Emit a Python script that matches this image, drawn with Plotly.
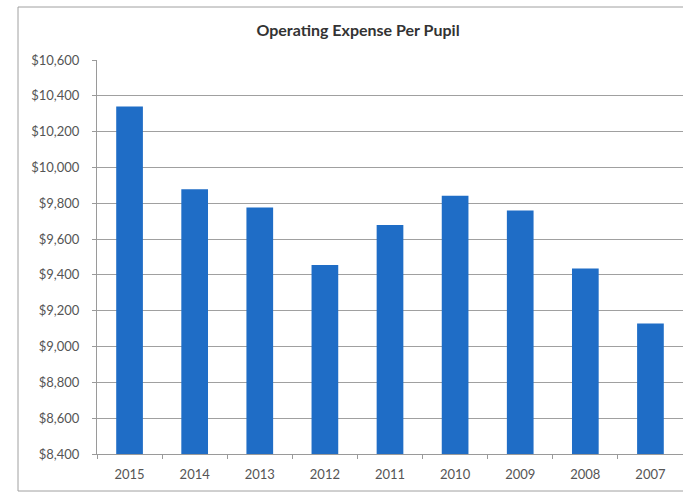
import plotly.graph_objects as go

# fiscal years and operating expense per pupil (USD)
years = ["2015", "2014", "2013", "2012", "2011", "2010", "2009", "2008", "2007"]
expense = [10340, 9878, 9776, 9456, 9678, 9842, 9760, 9436, 9128]

y_ticks = list(range(8400, 10601, 200))
y_labels = ["${:,}".format(v) for v in y_ticks]

fig = go.Figure(
    data=[
        go.Bar(
            x=years,
            y=expense,
            marker=dict(color="#1F6DC6", line=dict(width=0)),
            showlegend=False,
        )
    ]
)

fig.update_layout(
    width=683,
    height=493,
    margin=dict(l=97, r=0, t=60, b=39),
    paper_bgcolor="white",
    plot_bgcolor="white",
    bargap=0.59,
    font=dict(family="Lato, Open Sans, sans-serif", size=13, color="#555555"),
    title=dict(
        text="<b>Operating Expense Per Pupil</b>",
        x=358 / 683,
        xanchor="center",
        y=1 - 30 / 493,
        yanchor="middle",
        font=dict(size=16, color="#333333"),
    ),
)

fig.update_xaxes(
    type="category",
    showline=True,
    linecolor="#9A9A9A",
    linewidth=1,
    ticks="outside",
    tickson="boundaries",
    ticklen=4,
    tickcolor="#9A9A9A",
    showgrid=False,
    ticklabelstandoff=8,
    tickfont=dict(size=13, color="#555555"),
)

fig.update_yaxes(
    range=[8400, 10600],
    tickvals=y_ticks,
    ticktext=y_labels,
    showline=True,
    linecolor="#9A9A9A",
    linewidth=1,
    ticks="outside",
    ticklen=4,
    tickcolor="#9A9A9A",
    showgrid=True,
    gridcolor="#A0A0A0",
    gridwidth=1,
    zeroline=False,
    ticklabelstandoff=10,
    tickfont=dict(size=13, color="#555555"),
)

# chart frame: left, top and bottom edges (right side runs off the picture)
fx0, fx1 = (18 - 97) / 586, 1.2
fy0, fy1 = (454 - 491) / 394, (454 - 7) / 394
for x0, y0, x1, y1 in [(fx0, fy0, fx0, fy1), (fx0, fy1, fx1, fy1), (fx0, fy0, fx1, fy0)]:
    fig.add_shape(
        type="line",
        xref="paper", yref="paper",
        x0=x0, y0=y0, x1=x1, y1=y1,
        line=dict(color="#A0A0A0", width=1),
        layer="below",
    )

fig.write_html(
    "out.html",
    config={"displayModeBar": False},
    post_script="document.body.style.margin='0';document.body.style.overflow='hidden';",
)
